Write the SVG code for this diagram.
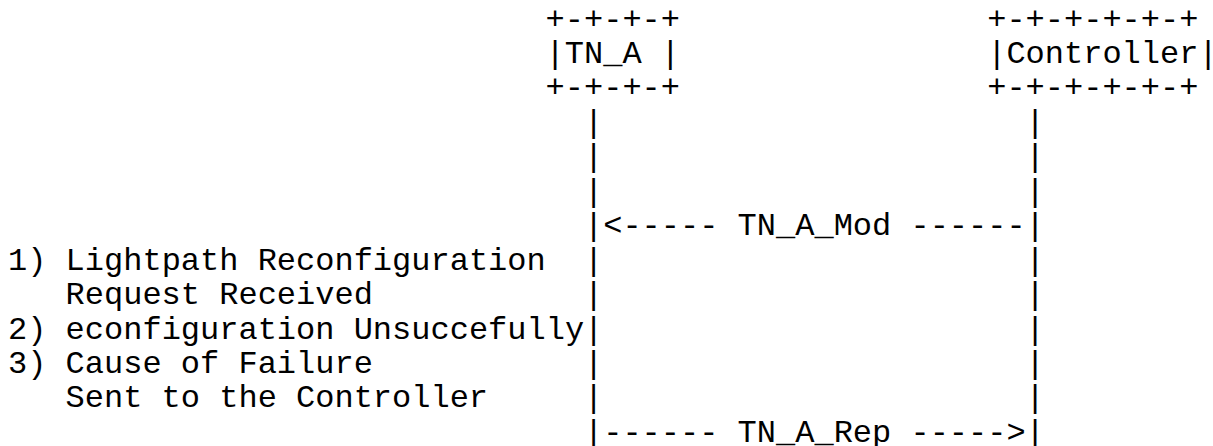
<svg xmlns="http://www.w3.org/2000/svg" width="1213" height="446" viewBox="0 0 1213 446">
<style>
text { font-family: "Liberation Mono", "Courier New", monospace; font-size: 32px; fill: #000; white-space: pre; }
</style>
<rect x="0" y="0" width="1213" height="446" fill="#fff"/>
<g id="tn_a">
<text x="545.6" y="28.5">+-+-+-+</text>
<text x="545.6" y="62.95">|TN_A |</text>
<text x="545.6" y="97.4">+-+-+-+</text>
</g>
<g id="controller">
<text x="987.2" y="28.5">+-+-+-+-+-+</text>
<text x="987.2" y="62.95">|Controller|</text>
<text x="987.2" y="97.4">+-+-+-+-+-+</text>
</g>
<g id="connectors">
<g id="lifeline_tn_a">
<text x="584" y="131.85">|</text>
<text x="584" y="166.3">|</text>
<text x="584" y="200.75">|</text>
<text x="584" y="235.2">|</text>
<text x="584" y="269.65">|</text>
<text x="584" y="304.1">|</text>
<text x="584" y="338.55">|</text>
<text x="584" y="373">|</text>
<text x="584" y="407.45">|</text>
<text x="584" y="441.9">|</text>
</g>
<g id="lifeline_controller">
<text x="1025.6" y="131.85">|</text>
<text x="1025.6" y="166.3">|</text>
<text x="1025.6" y="200.75">|</text>
<text x="1025.6" y="235.2">|</text>
<text x="1025.6" y="269.65">|</text>
<text x="1025.6" y="304.1">|</text>
<text x="1025.6" y="338.55">|</text>
<text x="1025.6" y="373">|</text>
<text x="1025.6" y="407.45">|</text>
<text x="1025.6" y="441.9">|</text>
</g>
<text id="msg_mod" x="603.2" y="235.2">&lt;----- TN_A_Mod ------</text>
<text id="msg_rep" x="603.2" y="441.9">------ TN_A_Rep -----&gt;</text>
</g>
<g id="notes">
<text x="8" y="269.65">1) Lightpath Reconfiguration</text>
<text x="65.6" y="304.1">Request Received</text>
<text x="8" y="338.55">2) econfiguration Unsuccefully</text>
<text x="8" y="373">3) Cause of Failure</text>
<text x="65.6" y="407.45">Sent to the Controller</text>
</g>
</svg>
